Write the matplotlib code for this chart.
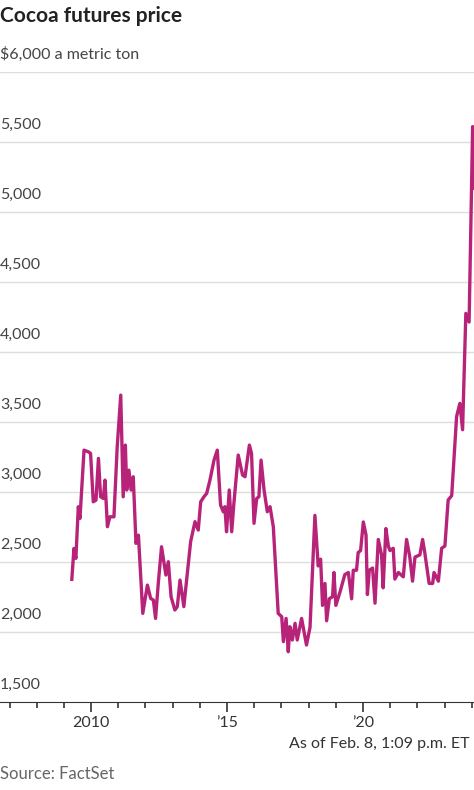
import matplotlib.pyplot as plt

years = [2009.29, 2009.37, 2009.44, 2009.53, 2009.59, 2009.74, 2009.90, 2009.98, 2010.08, 2010.18,
         2010.27, 2010.35, 2010.45, 2010.51, 2010.60, 2010.69, 2010.84, 2010.96, 2011.09, 2011.18,
         2011.26, 2011.31, 2011.39, 2011.47, 2011.55, 2011.65, 2011.74, 2011.90, 2012.07, 2012.19,
         2012.29, 2012.37, 2012.47, 2012.59, 2012.75, 2012.84, 2012.94, 2013.08, 2013.17, 2013.27,
         2013.41, 2013.66, 2013.82, 2013.94, 2014.03, 2014.15, 2014.25, 2014.37, 2014.52, 2014.64,
         2014.76, 2014.86, 2014.92, 2014.98, 2015.08, 2015.17, 2015.25, 2015.41, 2015.57, 2015.66,
         2015.82, 2015.90, 2015.99, 2016.09, 2016.17, 2016.25, 2016.36, 2016.48, 2016.58, 2016.70,
         2016.88, 2017.01, 2017.07, 2017.17, 2017.25, 2017.31, 2017.40, 2017.50, 2017.58, 2017.74,
         2017.92, 2018.05, 2018.23, 2018.35, 2018.44, 2018.51, 2018.60, 2018.66, 2018.76, 2018.88,
         2018.93, 2019.00, 2019.15, 2019.33, 2019.46, 2019.58, 2019.64, 2019.76, 2019.82, 2019.91,
         2020.01, 2020.11, 2020.16, 2020.23, 2020.35, 2020.44, 2020.56, 2020.68, 2020.74, 2020.84,
         2020.93, 2020.99, 2021.11, 2021.17, 2021.30, 2021.48, 2021.60, 2021.72, 2021.82, 2021.91,
         2022.09, 2022.19, 2022.27, 2022.43, 2022.56, 2022.61, 2022.77, 2022.89, 2023.01, 2023.13,
         2023.26, 2023.44, 2023.56, 2023.66, 2023.78, 2023.90, 2024.03, 2024.08]
prices = [2376, 2597, 2526, 2895, 2811, 3299, 3287, 3275, 2930, 2942,
          3240, 2966, 2954, 3085, 2752, 2823, 2823, 3323, 3692, 2966,
          3335, 3014, 3156, 3014, 3109, 2633, 2692, 2133, 2335, 2240,
          2228, 2097, 2347, 2609, 2407, 2502, 2252, 2157, 2181, 2371,
          2181, 2645, 2788, 2728, 2930, 2966, 2990, 3085, 3228, 3299,
          2907, 2859, 2895, 2716, 3014, 2716, 2918, 3264, 3121, 3109,
          3335, 3275, 2776, 2954, 2966, 3228, 3014, 2859, 2895, 2752,
          2133, 2109, 1931, 2097, 1859, 2038, 1943, 2062, 1943, 2097,
          1907, 2033, 2833, 2472, 2520, 2190, 2347, 2080, 2237, 2253,
          2425, 2190, 2284, 2410, 2425, 2237, 2441, 2441, 2567, 2582,
          2786, 2692, 2268, 2441, 2457, 2206, 2661, 2551, 2316, 2739,
          2614, 2582, 2598, 2378, 2425, 2394, 2661, 2535, 2363, 2535,
          2551, 2661, 2567, 2347, 2347, 2425, 2363, 2598, 2614, 2943,
          2974, 3539, 3633, 3445, 4276, 4214, 5610, 5170]

y_ticks = [1500, 2000, 2500, 3000, 3500, 4000, 4500, 5000, 5500, 6000]
y_labels = ["1,500", "2,000", "2,500", "3,000", "3,500", "4,000", "4,500", "5,000", "5,500",
            "$6,000 a metric ton"]
x_major = [2010, 2015, 2020]
x_labels = ["2010", "\u201915", "\u201920"]

fig = plt.figure(figsize=(4.74, 7.90), dpi=100)
ax = fig.add_axes([0, 88 / 790, 1, (702 - 72) / 790])
ax.set_xlim(2006.65, 2024.08)
ax.set_ylim(1500, 6000)

for v in y_ticks[1:]:
    ax.axhline(v, color="#dddddd", lw=1, zorder=1)
for v, lab in zip(y_ticks, y_labels):
    ax.text(0.0, v + 70, lab, transform=ax.get_yaxis_transform(), fontsize=11.5,
            color="#444444", va="bottom", ha="left", family="Lato")

ax.plot(years, prices, color="#b8237a", lw=2.4, zorder=3)

ax.set_yticks([])
ax.set_xticks(x_major)
ax.set_xticklabels(x_labels, fontsize=11.5, color="#333333", family="Lato")
ax.set_xticks(range(2007, 2025), minor=True)
ax.tick_params(axis="x", which="major", length=7, width=1.2, color="#333333", pad=3)
ax.tick_params(axis="x", which="minor", length=4, width=1.2, color="#333333")
for s in ["top", "right", "left"]:
    ax.spines[s].set_visible(False)
ax.spines["bottom"].set_color("#333333")

fig.text(0.0, 0.992, "Cocoa futures price", fontsize=15, fontweight="bold", va="top",
         ha="left", color="#222222", family="Lato")
fig.text(0.99, 1 - 737 / 790, "As of Feb. 8, 1:09 p.m. ET", fontsize=11.5,
         va="top", ha="right", color="#333333", family="Lato")
fig.text(0.0, 1 - 766 / 790, "Source: FactSet", fontsize=12, va="top", ha="left",
         color="#666666", family="Lato")

fig.savefig("out.png", dpi=100)
